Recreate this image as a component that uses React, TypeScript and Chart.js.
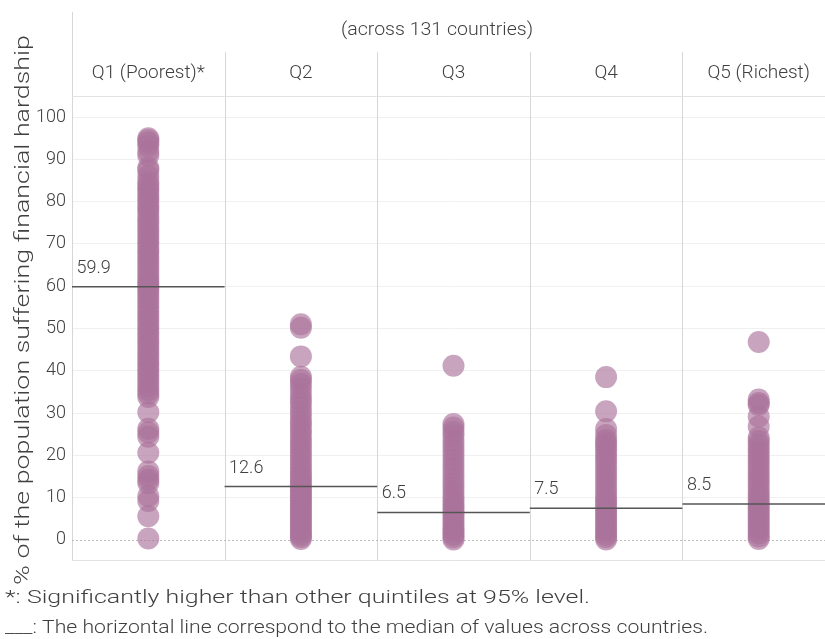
import React, { useEffect, useRef } from 'react';
import { Chart, registerables } from 'chart.js';

Chart.register(...registerables);

const quintiles = ['Q1 (Poorest)*', 'Q2', 'Q3', 'Q4', 'Q5 (Richest)'];
const medians = [59.9, 12.6, 6.5, 7.5, 8.5];

const q1Values = [95.0, 94.6, 94.0, 93.2, 91.8, 90.9, 88.0, 87.4, 86.0, 84.8, 84.0, 83.2, 82.5, 81.6, 80.8, 80.0, 79.1, 78.3, 77.5, 76.4, 75.6, 74.8, 73.9, 73.0, 72.1, 71.3, 70.4, 69.6, 68.7, 67.9, 67.0, 66.2, 65.3, 64.5, 63.6, 62.8, 61.9, 61.1, 60.5, 59.9, 59.2, 58.4, 57.5, 56.7, 55.8, 55.0, 54.1, 53.3, 52.4, 51.6, 50.7, 49.9, 49.0, 48.2, 47.3, 46.5, 45.6, 44.8, 43.9, 43.1, 42.2, 41.4, 40.5, 39.7, 38.8, 38.0, 37.1, 36.3, 35.4, 34.6, 33.8, 30.2, 26.3, 25.4, 24.4, 20.6, 16.2, 15.1, 14.2, 13.4, 10.3, 9.2, 5.6, 0.3];
const q2Values = [51.0, 50.2, 43.4, 38.6, 37.8, 36.9, 35.8, 34.5, 33.4, 32.5, 31.3, 30.2, 29.1, 28.0, 27.2, 26.1, 25.3, 24.2, 23.3, 22.4, 21.5, 20.6, 19.7, 18.8, 17.9, 17.0, 16.2, 15.4, 14.6, 13.9, 13.2, 12.6, 12.0, 11.4, 10.8, 10.2, 9.6, 9.0, 8.4, 7.8, 7.2, 6.6, 6.0, 5.4, 4.8, 4.2, 3.6, 3.0, 2.4, 1.8, 1.2, 0.7, 0.2];
const q3Values = [41.2, 27.4, 26.6, 25.6, 24.6, 23.4, 22.3, 21.2, 20.1, 19.0, 17.9, 16.8, 15.7, 14.6, 13.5, 12.5, 11.5, 10.5, 9.6, 8.8, 8.0, 7.3, 6.5, 5.8, 5.1, 4.4, 3.7, 3.0, 2.4, 1.8, 1.2, 0.6, 0.1];
const q4Values = [38.5, 30.4, 26.2, 24.8, 23.6, 23.0, 22.2, 21.3, 20.4, 19.5, 18.6, 17.6, 16.6, 15.6, 14.6, 13.6, 12.6, 11.6, 10.6, 9.8, 9.0, 8.3, 7.5, 6.8, 6.1, 5.4, 4.7, 4.0, 3.3, 2.6, 1.9, 1.2, 0.6, 0.1];
const q5Values = [46.8, 33.2, 32.4, 31.9, 29.2, 26.8, 24.2, 23.4, 22.5, 21.6, 20.7, 19.8, 18.9, 18.0, 17.1, 16.2, 15.3, 14.4, 13.5, 12.6, 11.7, 10.8, 10.0, 9.2, 8.5, 7.8, 7.1, 6.4, 5.7, 5.0, 4.3, 3.6, 2.9, 2.2, 1.5, 0.8, 0.2];

const yTicks = [0, 10, 20, 30, 40, 50, 60, 70, 80, 90, 100];
const headerText = '(across 131 countries)';
const yTitle = '% of the population suffering financial hardship';
const footnotes = [
  '*: Significantly higher than other quintiles at 95% level.',
  '___: The horizontal line correspond to the median of values across countries.',
];

const FONT = 'Roboto, "Noto Sans", sans-serif';
const TEXT = '#404040';

function fitText(ctx: CanvasRenderingContext2D, text: string, x: number, y: number, width: number, font: string) {
  ctx.save();
  ctx.font = font;
  ctx.fillStyle = TEXT;
  ctx.textBaseline = 'middle';
  ctx.textAlign = 'left';
  const w = ctx.measureText(text).width;
  const s = width / w;
  ctx.translate(x, y);
  ctx.scale(s, 1);
  ctx.fillText(text, 0, 0);
  ctx.restore();
}

const decor = {
  id: 'decor',
  beforeDatasetsDraw(chart: any) {
    const { ctx, chartArea: ca, scales } = chart;
    const x = scales.x;
    const y = scales.y;
    ctx.save();
    ctx.strokeStyle = '#d6d6d6';
    ctx.lineWidth = 1;
    const seg = (x1: number, y1: number, x2: number, y2: number) => {
      ctx.beginPath();
      ctx.moveTo(x1, y1);
      ctx.lineTo(x2, y2);
      ctx.stroke();
    };
    const lx = Math.round(ca.left) + 0.5;
    seg(lx, 12, lx, ca.bottom);
    for (let i = 1; i < quintiles.length; i++) {
      const px = Math.round(x.getPixelForValue(i)) + 0.5;
      seg(px, 52, px, ca.bottom);
    }
    ctx.strokeStyle = '#e2e2e2';
    seg(ca.left, Math.round(ca.top) + 0.5, ca.right, Math.round(ca.top) + 0.5);
    seg(ca.left, Math.round(ca.bottom) - 0.5, ca.right, Math.round(ca.bottom) - 0.5);
    ctx.setLineDash([2, 2]);
    ctx.strokeStyle = '#bdbdbd';
    const y0 = Math.round(y.getPixelForValue(0)) + 0.5;
    seg(ca.left, y0, ca.right, y0);
    ctx.restore();
  },
  afterDraw(chart: any) {
    const { ctx, scales } = chart;
    const x = scales.x;
    const y = scales.y;
    ctx.save();
    // header
    fitText(ctx, headerText, 341, 30, 192, `300 18px ${FONT}`);
    // column labels
    ctx.font = `300 19px ${FONT}`;
    ctx.fillStyle = TEXT;
    ctx.textAlign = 'center';
    ctx.textBaseline = 'middle';
    quintiles.forEach((q, i) => {
      ctx.fillText(q, x.getPixelForValue(i + 0.5), 73);
    });
    // median labels
    ctx.font = `300 18px ${FONT}`;
    ctx.textAlign = 'left';
    ctx.textBaseline = 'alphabetic';
    medians.forEach((m, i) => {
      ctx.fillText(m.toFixed(1), x.getPixelForValue(i) + 4.5, y.getPixelForValue(m) - 14);
    });
    // y title
    ctx.save();
    ctx.font = `300 21px ${FONT}`;
    const tw = ctx.measureText(yTitle).width;
    ctx.translate(29, 310);
    ctx.rotate(-Math.PI / 2);
    ctx.scale(550 / tw, 1);
    ctx.textAlign = 'center';
    ctx.textBaseline = 'alphabetic';
    ctx.fillText(yTitle, 0, 0);
    ctx.restore();
    // footnotes
    fitText(ctx, footnotes[0], 5, 598, 585, `300 19px ${FONT}`);
    fitText(ctx, footnotes[1], 5, 628, 703, `300 19px ${FONT}`);
    ctx.restore();
  },
};

export default function App() {
  const ref = useRef<HTMLCanvasElement | null>(null);
  useEffect(() => {
    if (!ref.current) return;
    const series = [q1Values, q2Values, q3Values, q4Values, q5Values];
    const chart = new Chart(ref.current, {
      type: 'scatter',
      data: {
        datasets: [
          ...medians.map((m, i) => ({
            type: 'line' as const,
            data: [{ x: i, y: m }, { x: i + 1, y: m }],
            borderColor: '#555555',
            borderWidth: 1.5,
            pointRadius: 0,
            showLine: true,
            fill: false,
            order: 0,
          })),
          ...series.map((vals, i) => ({
            type: 'scatter' as const,
            data: vals.map((v) => ({ x: i + 0.5, y: v })),
            backgroundColor: 'rgba(170,115,155,0.65)',
            borderWidth: 0,
            pointRadius: 11,
            order: 1,
          })),
        ],
      },
      options: {
        animation: false,
        responsive: false,
        devicePixelRatio: 1,
        layout: { padding: { left: 0, right: 0, top: 96, bottom: 78 } },
        plugins: { legend: { display: false }, tooltip: { enabled: false } },
        scales: {
          x: { type: 'linear', min: 0, max: 5, display: false },
          y: {
            type: 'linear',
            min: -5,
            max: 105,
            afterBuildTicks: (axis: any) => {
              axis.ticks = yTicks.map((v) => ({ value: v }));
            },
            afterFit: (s: any) => {
              s.width = 72;
            },
            border: { display: false },
            grid: {
              drawTicks: false,
              color: (c: any) => (c.tick && c.tick.value === 0 ? 'rgba(0,0,0,0)' : '#f0f0f0'),
            },
            ticks: {
              padding: 6,
              color: TEXT,
              font: { family: FONT, size: 18, weight: '300' },
            },
          },
        },
      },
      plugins: [decor],
    } as any);
    return () => chart.destroy();
  }, []);
  return (
    <div style={{ position: 'fixed', left: 0, top: 0, width: 825, height: 639, overflow: 'hidden', background: '#fff' }}>
      <div style={{ position: 'absolute', left: 0, top: 0, width: 846, height: 639 }}>
        <canvas ref={ref} width={846} height={639} style={{ width: 846, height: 639, display: 'block' }} />
      </div>
    </div>
  );
}
